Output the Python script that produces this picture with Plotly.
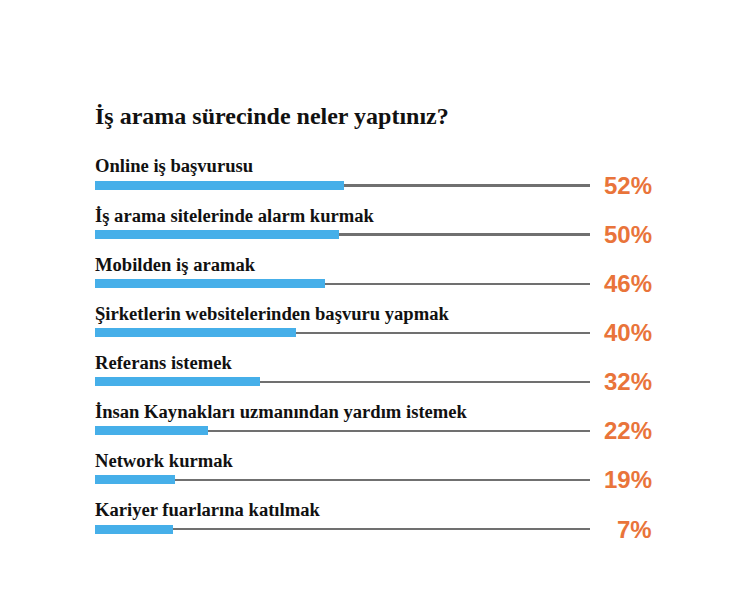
import plotly.graph_objects as go

title = "İş arama sürecinde neler yaptınız?"
categories = [
    "Online iş başvurusu",
    "İş arama sitelerinde alarm kurmak",
    "Mobilden iş aramak",
    "Şirketlerin websitelerinden başvuru yapmak",
    "Referans istemek",
    "İnsan Kaynakları uzmanından yardım istemek",
    "Network kurmak",
    "Kariyer fuarlarına katılmak",
]
percent_values = [52, 50, 46, 40, 32, 22, 19, 7]
# bar lengths as drawn in the picture (scale 0-100 along the grey track)
bar_lengths = [50.3, 49.3, 46.5, 40.6, 33.3, 22.8, 16.2, 15.7]
track_length = [100] * len(categories)

rows = list(range(len(categories)))

BLUE = "#46afe9"
GREY = "#707070"
ORANGE = "#e9743a"
SERIF = "Liberation Serif, Times New Roman, serif"
SANS = "Liberation Sans, Arial, sans-serif"

W, H = 747, 611
L, R = 95, 157
T, B = 140, 51
row_px = 49.1
ymin = -(185.5 - T) / row_px
ymax = 7 + ((H - B) - 529) / row_px

fig = go.Figure()
fig.add_trace(go.Bar(
    x=track_length, y=rows, orientation="h", width=2.2 / row_px,
    marker=dict(color=GREY, line=dict(width=0)), hoverinfo="skip", showlegend=False,
))
fig.add_trace(go.Bar(
    x=bar_lengths, y=rows, orientation="h", width=9 / row_px,
    marker=dict(color=BLUE, line=dict(width=0)), hoverinfo="skip", showlegend=False,
))

annotations = []
for i, (cat, val) in enumerate(zip(categories, percent_values)):
    annotations.append(dict(
        x=0, y=i - 19.5 / row_px, xref="x", yref="y", text=f"<b>{cat}</b>", showarrow=False,
        xanchor="left", yanchor="middle", xshift=-2,
        font=dict(family=SERIF, size=18.6, color="#111111"),
    ))
    annotations.append(dict(
        x=(654 - L) / (W - L - R), y=i, xref="paper", yref="y", text=f"<b>{val}%</b>",
        showarrow=False, xanchor="right", yanchor="middle",
        font=dict(family=SANS, size=24, color=ORANGE),
    ))

fig.update_layout(
    width=W, height=H,
    margin=dict(l=L, r=R, t=T, b=B, pad=0),
    barmode="overlay", bargap=0,
    paper_bgcolor="white", plot_bgcolor="white",
    title=dict(text=f"<b>{title}</b>", x=L / W, xanchor="left", xref="container",
               y=1 - 116 / H, yanchor="middle", yref="container",
               font=dict(family=SERIF, size=24, color="#111111")),
    xaxis=dict(range=[0, 100], showgrid=False, zeroline=False, showticklabels=False,
               showline=False, fixedrange=True),
    yaxis=dict(range=[ymax, ymin], showgrid=False, zeroline=False, showticklabels=False,
               showline=False, fixedrange=True),
    annotations=annotations,
)

fig.write_html("out.html", config={"displayModeBar": False})
